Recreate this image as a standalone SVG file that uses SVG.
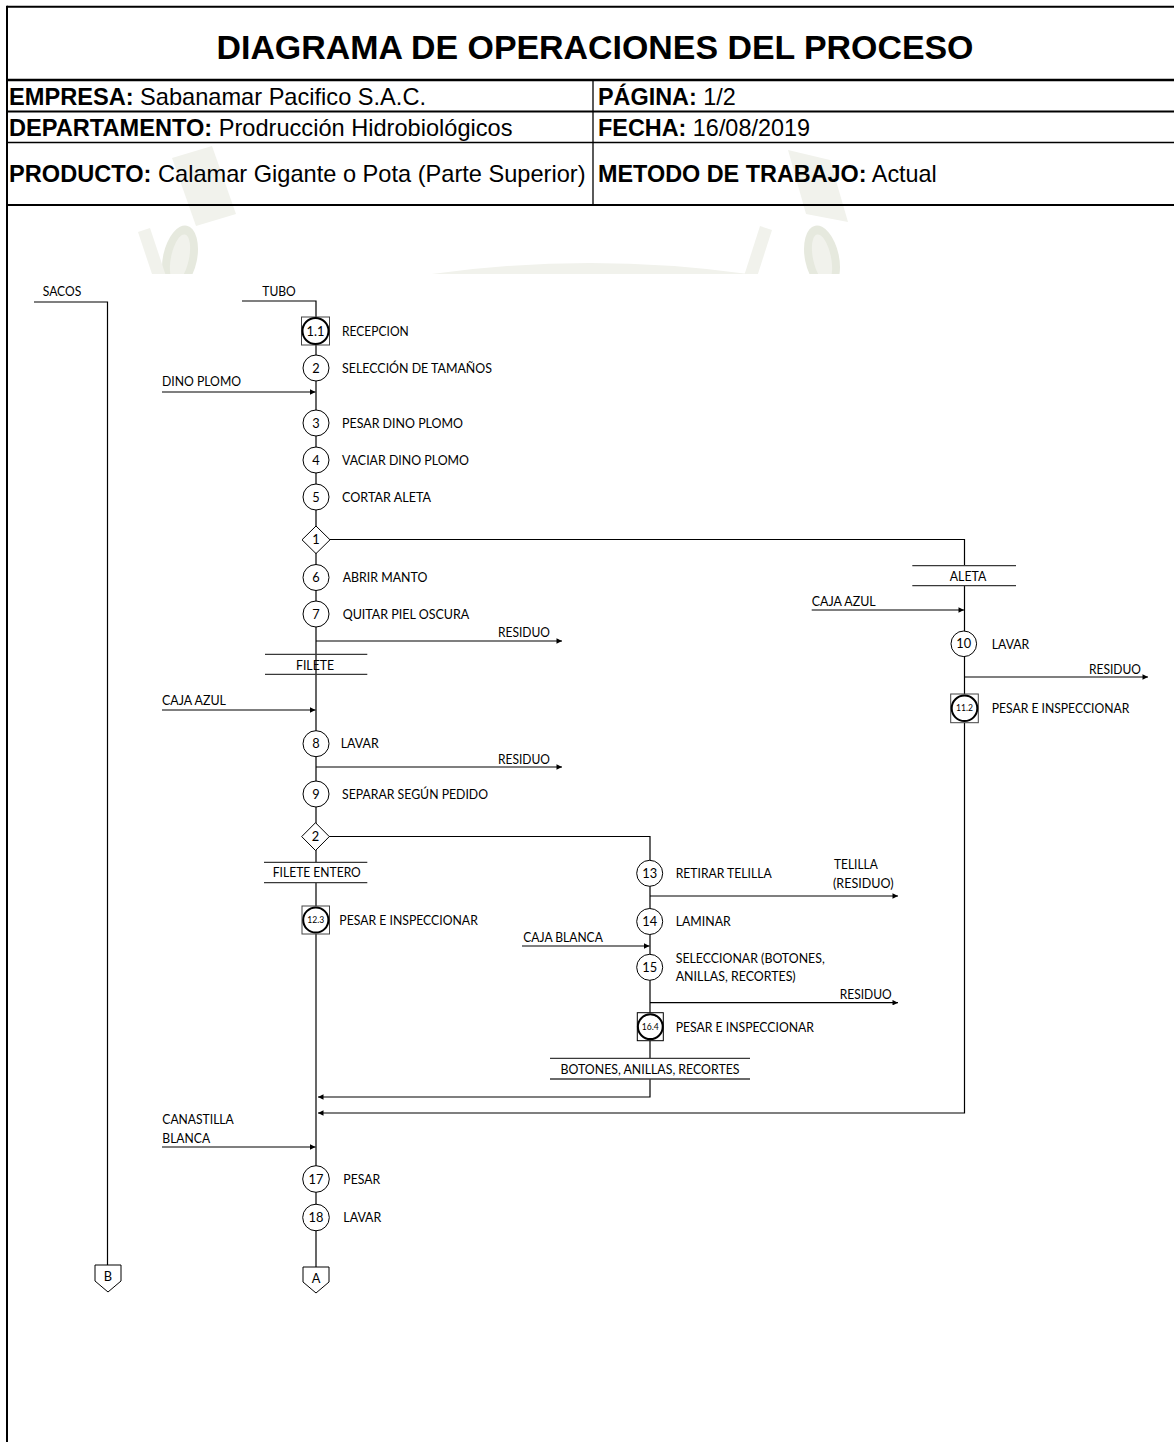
<svg xmlns="http://www.w3.org/2000/svg" width="1174" height="1442" viewBox="0 0 1174 1442">
  <defs>
    <style>
      .hd{font-family:'Liberation Sans',Arial,sans-serif;fill:#000}
      .hb{font-weight:bold}
      .t{font-family:Lato,'Open Sans',sans-serif;font-size:12.8px;fill:#000}
      .n{font-family:Lato,'Open Sans',sans-serif;font-size:12.8px;fill:#000;text-anchor:middle}
      .ns{font-family:Lato,'Open Sans',sans-serif;font-size:8.6px;fill:#000;text-anchor:middle}
      .mid{text-anchor:middle}
      .end{text-anchor:end}
      .ln{stroke:#000;stroke-width:1.2;fill:none}
      .st{stroke:#3a3a3a;stroke-width:1.3;fill:none}
      .op{fill:#fff;stroke:#000;stroke-width:1}
      .opb{fill:#fff;stroke:#000;stroke-width:2}
      .sq{fill:#fff;stroke:#444;stroke-width:1}
      .rule{stroke:#000;fill:none}
      .wm1{fill:#f1f2ec}
      .wm2{fill:#e6e9de}
    </style>
    <marker id="ah" viewBox="0 0 10 10" refX="10" refY="5" markerWidth="6.5" markerHeight="5.5" markerUnits="userSpaceOnUse" orient="auto">
      <path d="M0,0L10,5L0,10z" fill="#000"/>
    </marker>
    <clipPath id="wmclip"><rect x="8" y="8" width="1166" height="266"/></clipPath>
  </defs>

  <rect x="0" y="0" width="1174" height="1442" fill="#fff"/>

  <!-- faint background emblem behind the header -->
  <g id="emblem" clip-path="url(#wmclip)">
    <polygon class="wm1" points="172,158 212,146 236,214 196,226"/>
    <ellipse class="wm2" cx="180" cy="258" rx="17" ry="33" transform="rotate(12 180 258)"/>
    <ellipse class="wm1" cx="180" cy="258" rx="9" ry="24" transform="rotate(12 180 258)"/>
    <polygon class="wm1" points="138,232 150,228 166,276 154,280"/>
    <path class="wm1" d="M418,276 Q590,250 762,276 Z"/>
    <polygon class="wm1" points="788,150 830,160 848,222 806,214"/>
    <ellipse class="wm2" cx="822" cy="258" rx="17" ry="33" transform="rotate(-12 822 258)"/>
    <ellipse class="wm1" cx="822" cy="258" rx="9" ry="24" transform="rotate(-12 822 258)"/>
    <polygon class="wm1" points="760,226 772,230 756,280 744,276"/>
  </g>

  <!-- header table -->
  <g id="header">
    <path class="rule" stroke-width="2" d="M7,6.7H1174"/>
    <path class="rule" stroke-width="2" d="M7,5.7V1442"/>
    <path class="rule" stroke-width="2.3" d="M7,80H1174"/>
    <path class="rule" stroke-width="2" d="M7,111.5H1174"/>
    <path class="rule" stroke-width="1.6" d="M7,142.5H1174"/>
    <path class="rule" stroke-width="2.2" d="M7,205H1174"/>
    <path class="rule" stroke-width="1.3" d="M593,80V205"/>
    <text class="hd hb mid" x="595" y="59" font-size="33.9">DIAGRAMA DE OPERACIONES DEL PROCESO</text>
    <text class="hd" x="9" y="105" font-size="23.6"><tspan class="hb">EMPRESA:</tspan> Sabanamar Pacifico S.A.C.</text>
    <text class="hd" x="9" y="136" font-size="23.6"><tspan class="hb">DEPARTAMENTO:</tspan> Prodrucción Hidrobiológicos</text>
    <text class="hd" x="9" y="182" font-size="23.6"><tspan class="hb">PRODUCTO:</tspan> Calamar Gigante o Pota (Parte Superior)</text>
    <text class="hd" x="598" y="105" font-size="23.4"><tspan class="hb">PÁGINA:</tspan> 1/2</text>
    <text class="hd" x="598" y="136" font-size="23.4"><tspan class="hb">FECHA:</tspan> 16/08/2019</text>
    <text class="hd" x="598" y="182" font-size="23.4"><tspan class="hb">METODO DE TRABAJO:</tspan> Actual</text>
  </g>

  <!-- flow lines -->
  <g id="connectors">
    <path class="ln" d="M34,302H107.5V1265"/>
    <path class="ln" d="M242,301H316V862.3"/>
    <path class="ln" d="M316,882.7V1267"/>
    <path class="ln" d="M330,539.5H964.5V565.7"/>
    <path class="ln" d="M964.5,585.7V1113H318" marker-end="url(#ah)"/>
    <path class="ln" d="M329,836.5H650V1058.3"/>
    <path class="ln" d="M650,1079V1097H318" marker-end="url(#ah)"/>
    <!-- inputs -->
    <path class="ln" d="M162,392H315.5" marker-end="url(#ah)"/>
    <path class="ln" d="M162,710H315.5" marker-end="url(#ah)"/>
    <path class="ln" d="M162,1147H315.5" marker-end="url(#ah)"/>
    <path class="ln" d="M522,946H649.5" marker-end="url(#ah)"/>
    <path class="ln" d="M811.7,610H964" marker-end="url(#ah)"/>
    <!-- waste outputs -->
    <path class="ln" d="M316,641H562" marker-end="url(#ah)"/>
    <path class="ln" d="M316,767H562" marker-end="url(#ah)"/>
    <path class="ln" d="M650,896H898" marker-end="url(#ah)"/>
    <path class="ln" d="M650,1002.7H898" marker-end="url(#ah)"/>
    <path class="ln" d="M964.5,677H1148" marker-end="url(#ah)"/>
  </g>

  <!-- material labels on lines -->
  <g id="materials">
    <text class="t mid" x="62" y="295.5" textLength="38.5" lengthAdjust="spacingAndGlyphs">SACOS</text>
    <text class="t mid" x="279" y="295.5" textLength="33.5" lengthAdjust="spacingAndGlyphs">TUBO</text>
    <text class="t" x="162" y="385.6" textLength="79" lengthAdjust="spacingAndGlyphs">DINO PLOMO</text>
    <text class="t" x="162" y="704.6" textLength="64" lengthAdjust="spacingAndGlyphs">CAJA AZUL</text>
    <text class="t" x="811.7" y="606" textLength="64" lengthAdjust="spacingAndGlyphs">CAJA AZUL</text>
    <text class="t" x="523.3" y="942" textLength="79.5" lengthAdjust="spacingAndGlyphs">CAJA BLANCA</text>
    <text class="t" x="162.3" y="1123.6" textLength="71.5" lengthAdjust="spacingAndGlyphs">CANASTILLA</text>
    <text class="t" x="162.3" y="1143" textLength="47.8" lengthAdjust="spacingAndGlyphs">BLANCA</text>
    <text class="t end" x="550" y="637" textLength="52" lengthAdjust="spacingAndGlyphs">RESIDUO</text>
    <text class="t end" x="550" y="763.5" textLength="52" lengthAdjust="spacingAndGlyphs">RESIDUO</text>
    <text class="t end" x="891.7" y="999" textLength="52" lengthAdjust="spacingAndGlyphs">RESIDUO</text>
    <text class="t end" x="1141" y="673.5" textLength="52" lengthAdjust="spacingAndGlyphs">RESIDUO</text>
    <text class="t" x="834" y="869.3" textLength="43.8" lengthAdjust="spacingAndGlyphs">TELILLA</text>
    <text class="t" x="833" y="887.5" textLength="60.5" lengthAdjust="spacingAndGlyphs">(RESIDUO)</text>
  </g>

  <!-- storage bars -->
  <g id="store-filete">
    <path class="st" d="M265,654.3H367.3M265,674.3H367.3"/>
    <text class="t mid" x="315" y="670" textLength="38" lengthAdjust="spacingAndGlyphs">FILETE</text>
  </g>
  <g id="store-filete-entero">
    <path class="st" d="M264,862.3H367.3M264,882.7H367.3"/>
    <text class="t mid" x="316.8" y="877.3" textLength="88" lengthAdjust="spacingAndGlyphs">FILETE ENTERO</text>
  </g>
  <g id="store-aleta">
    <path class="st" d="M912.3,565.7H1016M912.3,585.7H1016"/>
    <text class="t mid" x="968" y="581" textLength="36.5" lengthAdjust="spacingAndGlyphs">ALETA</text>
  </g>
  <g id="store-botones">
    <path class="st" d="M550,1058.3H750M550,1079H750"/>
    <text class="t mid" x="650" y="1073.8" textLength="179" lengthAdjust="spacingAndGlyphs">BOTONES, ANILLAS, RECORTES</text>
  </g>

  <!-- main column operations -->
  <g id="op-1-1">
    <rect class="sq" x="301.5" y="317" width="28" height="28"/>
    <circle class="opb" cx="315.5" cy="331" r="13"/>
    <text class="n" x="315.5" y="335.5" font-size="12">1.1</text>
    <text class="t" x="342" y="335.6" textLength="66.7" lengthAdjust="spacingAndGlyphs">RECEPCION</text>
  </g>
  <g id="op-2">
    <circle class="op" cx="316" cy="368" r="13"/>
    <text class="n" x="316" y="372.6">2</text>
    <text class="t" x="342" y="372.6" textLength="150" lengthAdjust="spacingAndGlyphs">SELECCIÓN DE TAMAÑOS</text>
  </g>
  <g id="op-3">
    <circle class="op" cx="316" cy="423" r="13"/>
    <text class="n" x="316" y="427.6">3</text>
    <text class="t" x="342" y="427.6" textLength="121" lengthAdjust="spacingAndGlyphs">PESAR DINO PLOMO</text>
  </g>
  <g id="op-4">
    <circle class="op" cx="316" cy="460" r="13"/>
    <text class="n" x="316" y="464.6">4</text>
    <text class="t" x="342" y="464.6" textLength="127" lengthAdjust="spacingAndGlyphs">VACIAR DINO PLOMO</text>
  </g>
  <g id="op-5">
    <circle class="op" cx="316" cy="497" r="13"/>
    <text class="n" x="316" y="501.6">5</text>
    <text class="t" x="342" y="501.6" textLength="89" lengthAdjust="spacingAndGlyphs">CORTAR ALETA</text>
  </g>
  <g id="split-1">
    <polygon class="op" points="316,526 330,539.8 316,553.6 302,539.8"/>
    <text class="n" x="316" y="544.3">1</text>
  </g>
  <g id="op-6">
    <circle class="op" cx="316" cy="577.5" r="13"/>
    <text class="n" x="316" y="582.1">6</text>
    <text class="t" x="342.7" y="582.1" textLength="84.6" lengthAdjust="spacingAndGlyphs">ABRIR MANTO</text>
  </g>
  <g id="op-7">
    <circle class="op" cx="316" cy="614" r="13"/>
    <text class="n" x="316" y="618.6">7</text>
    <text class="t" x="342.7" y="618.6" textLength="126.6" lengthAdjust="spacingAndGlyphs">QUITAR PIEL OSCURA</text>
  </g>
  <g id="op-8">
    <circle class="op" cx="316" cy="743.7" r="13"/>
    <text class="n" x="316" y="748.3">8</text>
    <text class="t" x="340.7" y="748.3" textLength="38" lengthAdjust="spacingAndGlyphs">LAVAR</text>
  </g>
  <g id="op-9">
    <circle class="op" cx="316" cy="794" r="13"/>
    <text class="n" x="316" y="798.6">9</text>
    <text class="t" x="342" y="798.6" textLength="146" lengthAdjust="spacingAndGlyphs">SEPARAR SEGÚN PEDIDO</text>
  </g>
  <g id="split-2">
    <polygon class="op" points="315.5,822.7 329.3,836.6 315.5,850.5 301.7,836.6"/>
    <text class="n" x="315.5" y="841.1">2</text>
  </g>
  <g id="op-12-3">
    <rect class="sq" x="302" y="906" width="27.5" height="28"/>
    <circle class="opb" cx="315.8" cy="920" r="12.6"/>
    <text class="ns" x="315.8" y="923">12.3</text>
    <text class="t" x="339.3" y="925.2" textLength="138.5" lengthAdjust="spacingAndGlyphs">PESAR E INSPECCIONAR</text>
  </g>
  <g id="op-17">
    <circle class="op" cx="316" cy="1179" r="13.3"/>
    <text class="n" x="316" y="1183.6">17</text>
    <text class="t" x="343.3" y="1184" textLength="37" lengthAdjust="spacingAndGlyphs">PESAR</text>
  </g>
  <g id="op-18">
    <circle class="op" cx="316" cy="1217.5" r="13.3"/>
    <text class="n" x="316" y="1222.1">18</text>
    <text class="t" x="343.3" y="1222.3" textLength="38" lengthAdjust="spacingAndGlyphs">LAVAR</text>
  </g>
  <g id="link-a">
    <path class="op" d="M303,1267H329V1282L316,1293L303,1282Z"/>
    <text class="n" x="316" y="1283" font-size="11.5">A</text>
  </g>
  <g id="link-b">
    <path class="op" d="M95,1265H121V1281L108,1292L95,1281Z"/>
    <text class="n" x="108" y="1281" font-size="11.5">B</text>
  </g>

  <!-- branch: filete cuts -->
  <g id="op-13">
    <circle class="op" cx="649.7" cy="873.3" r="13"/>
    <text class="n" x="649.7" y="877.9">13</text>
    <text class="t" x="675.7" y="877.9" textLength="96" lengthAdjust="spacingAndGlyphs">RETIRAR TELILLA</text>
  </g>
  <g id="op-14">
    <circle class="op" cx="649.7" cy="921.5" r="13"/>
    <text class="n" x="649.7" y="926.1">14</text>
    <text class="t" x="675.7" y="926" textLength="55" lengthAdjust="spacingAndGlyphs">LAMINAR</text>
  </g>
  <g id="op-15">
    <circle class="op" cx="649.7" cy="967.3" r="13"/>
    <text class="n" x="649.7" y="971.9">15</text>
    <text class="t" x="675.7" y="963" textLength="149" lengthAdjust="spacingAndGlyphs">SELECCIONAR (BOTONES,</text>
    <text class="t" x="675.7" y="980.7" textLength="120" lengthAdjust="spacingAndGlyphs">ANILLAS, RECORTES)</text>
  </g>
  <g id="op-16-4">
    <rect class="sq" x="637.3" y="1012.7" width="26" height="28" style="stroke:#000"/>
    <circle class="opb" cx="650.3" cy="1026.7" r="12.4"/>
    <text class="ns" x="650.3" y="1029.7">16.4</text>
    <text class="t" x="675.7" y="1031.5" textLength="138.3" lengthAdjust="spacingAndGlyphs">PESAR E INSPECCIONAR</text>
  </g>

  <!-- branch: aleta -->
  <g id="op-10">
    <circle class="op" cx="963.8" cy="643.8" r="12.8"/>
    <text class="n" x="963.8" y="648.2">10</text>
    <text class="t" x="991.7" y="648.8" textLength="37.6" lengthAdjust="spacingAndGlyphs">LAVAR</text>
  </g>
  <g id="op-11-2">
    <rect class="sq" x="950.7" y="694" width="27.6" height="28.7"/>
    <circle class="opb" cx="964.5" cy="708.3" r="12.8"/>
    <text class="ns" x="964.5" y="711.3">11.2</text>
    <text class="t" x="991.7" y="713.4" textLength="137.6" lengthAdjust="spacingAndGlyphs">PESAR E INSPECCIONAR</text>
  </g>
</svg>
